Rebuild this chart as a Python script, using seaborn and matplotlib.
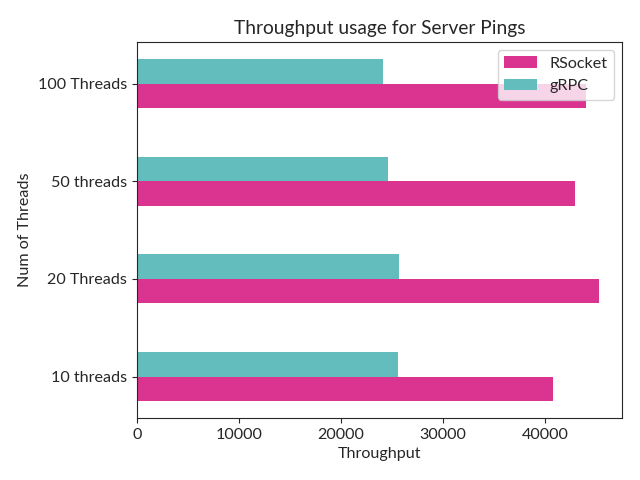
import matplotlib
matplotlib.use("Agg")
import matplotlib.pyplot as plt
import pandas as pd
import seaborn as sns

sns.set_style("ticks")
plt.rcParams["font.family"] = ["Lato", "DejaVu Sans"]

threads = ["10 threads", "20 Threads", "50 threads", "100 Threads"]
rsocket = [40720, 45250, 42880, 43960]
grpc = [25600, 25660, 24620, 24090]

df = pd.DataFrame({
    "threads": threads * 2,
    "throughput": rsocket + grpc,
    "protocol": ["RSocket"] * len(threads) + ["gRPC"] * len(threads),
})

fig, ax = plt.subplots(figsize=(6.4, 4.8), dpi=100)
sns.barplot(
    data=df,
    x="throughput",
    y="threads",
    hue="protocol",
    order=threads[::-1],
    hue_order=["gRPC", "RSocket"],
    palette={"RSocket": "#db3390", "gRPC": "#63bdbd"},
    orient="h",
    width=0.5,
    saturation=1,
    linewidth=0,
    errorbar=None,
    ax=ax,
)
ax.set_ylim(3.425, -0.425)
ax.set(
    title="Throughput usage for Server Pings",
    xlabel="Throughput",
    ylabel="Num of Threads",
)
ax.title.set_fontsize(13.8)
for side in ["top", "right"]:
    ax.spines[side].set_visible(True)
ax.tick_params(labelsize=11.6)
ax.xaxis.label.set_fontsize(11.6)
ax.yaxis.label.set_fontsize(11.6)

handles, labels = ax.get_legend_handles_labels()
ax.legend(handles[::-1], labels[::-1], loc="upper right", fontsize=11.6, title=None)

fig.subplots_adjust(left=0.214, right=0.972, top=0.9125, bottom=0.129)
fig.savefig("out.png")
